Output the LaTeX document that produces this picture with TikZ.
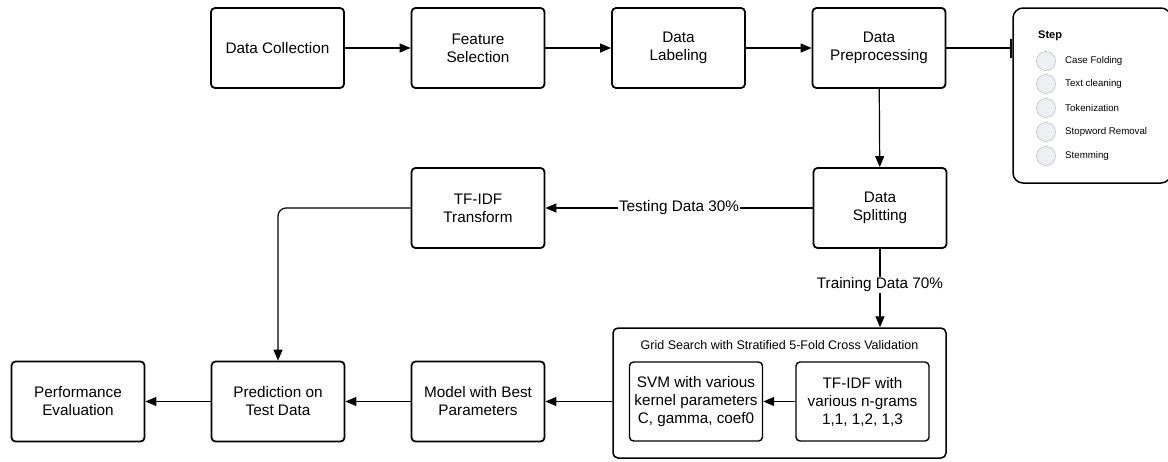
\documentclass[tikz,border=0pt]{standalone}
\usepackage{fontspec}
\setmainfont{Liberation Sans}
\usetikzlibrary{arrows.meta}
\definecolor{dotfill}{HTML}{EEEFF2}
\definecolor{dotline}{HTML}{C9CACE}
\begin{document}
\begin{tikzpicture}[x=1pt,y=-1pt,
  proc/.style={draw, line width=1.8pt, rounded corners=4pt, minimum width=133pt, minimum height=80pt, align=center, font=\fontsize{15.3}{18}\selectfont, inner sep=2pt},
  inner/.style={draw, line width=1.4pt, rounded corners=4pt, minimum width=133pt, minimum height=79pt, align=center, font=\fontsize{15.3}{18}\selectfont, inner sep=1pt},
  flow/.style={line width=1.2pt, -{Triangle[length=11pt,width=9pt]}},
  lbl/.style={fill=white, inner sep=1pt, font=\fontsize{15.3}{18}\selectfont},
  dot/.style={circle, draw=dotline, fill=dotfill, line width=0.8pt, minimum size=19pt, inner sep=0pt},
  steptext/.style={anchor=west, font=\fontsize{9.7}{12}\selectfont, inner sep=0pt}
]
\useasboundingbox (0,0) rectangle (1168,461);

% top row
\node[proc] (collect) at (277.5,48) {Data Collection};
\node[proc] (feature) at (478,48) {Feature\\Selection};
\node[proc] (label)   at (678.5,48) {Data\\Labeling};
\node[proc] (prep)    at (879,48) {Data\\Preprocessing};

% preprocessing steps panel
\node[draw, line width=1.5pt, rounded corners=10pt, minimum width=158pt, minimum height=175pt] (panel) at (1092,95.5) {};
\node[anchor=west, font=\bfseries\fontsize{11}{13}\selectfont, inner sep=0pt] (steptitle) at (1038,36) {Step};
\node[dot] (d1) at (1046,61) {};
\node[dot] (d2) at (1046,84) {};
\node[dot] (d3) at (1046,108) {};
\node[dot] (d4) at (1046,132) {};
\node[dot] (d5) at (1046,156) {};
\node[steptext] (s1) at (1065,61) {Case Folding};
\node[steptext] (s2) at (1065,84) {Text cleaning};
\node[steptext] (s3) at (1065,108) {Tokenization};
\node[steptext] (s4) at (1065,132) {Stopword Removal};
\node[steptext] (s5) at (1065,156) {Stemming};

% middle row
\node[proc] (split) at (880,208) {Data\\Splitting};
\node[proc] (tfidf) at (478,208) {TF-IDF\\Transform};

% grid search
\node[draw, line width=1.5pt, rounded corners=5pt, minimum width=333pt, minimum height=130pt] (grid) at (779.5,393) {};
\node[font=\fontsize{12.5}{14}\selectfont, inner sep=0pt] (gridtitle) at (779.5,345) {Grid Search with Stratified 5-Fold Cross Validation};
\node[inner] (svm) at (696,401.5) {SVM with various\\kernel parameters\\C, gamma, coef0};
\node[inner] (ngram) at (862.5,401.5) {TF-IDF with\\various n-grams\\1,1, 1,2, 1,3};

% bottom row
\node[proc] (model)   at (478,401.5) {Model with Best\\Parameters};
\node[proc] (predict) at (278,401.5) {Prediction on\\Test Data};
\node[proc] (perf)    at (78,401.5) {Performance\\Evaluation};

% connectors
\draw[flow] (collect) -- (feature);
\draw[flow] (feature) -- (label);
\draw[flow] (label) -- (prep);
\draw[line width=1.2pt, -{Bar[width=19pt,line width=2.5pt]}] (prep.east) -- (panel.west |- prep.east);
\draw[flow] (prep) -- (split);
\draw[flow] (split.west) -- node[lbl] {Testing Data 30\%} (tfidf.east);
\draw[flow] (split.south) -- node[lbl, pos=0.46] {Training Data 70\%} (grid.north -| split.south);
\draw[flow, rounded corners=8pt] (tfidf.west) -| (predict.north);
\draw[flow] (ngram) -- (svm);
\draw[flow] (grid.west |- svm) -- (model.east);
\draw[flow] (model) -- (predict);
\draw[flow] (predict) -- (perf);
\end{tikzpicture}
\end{document}
